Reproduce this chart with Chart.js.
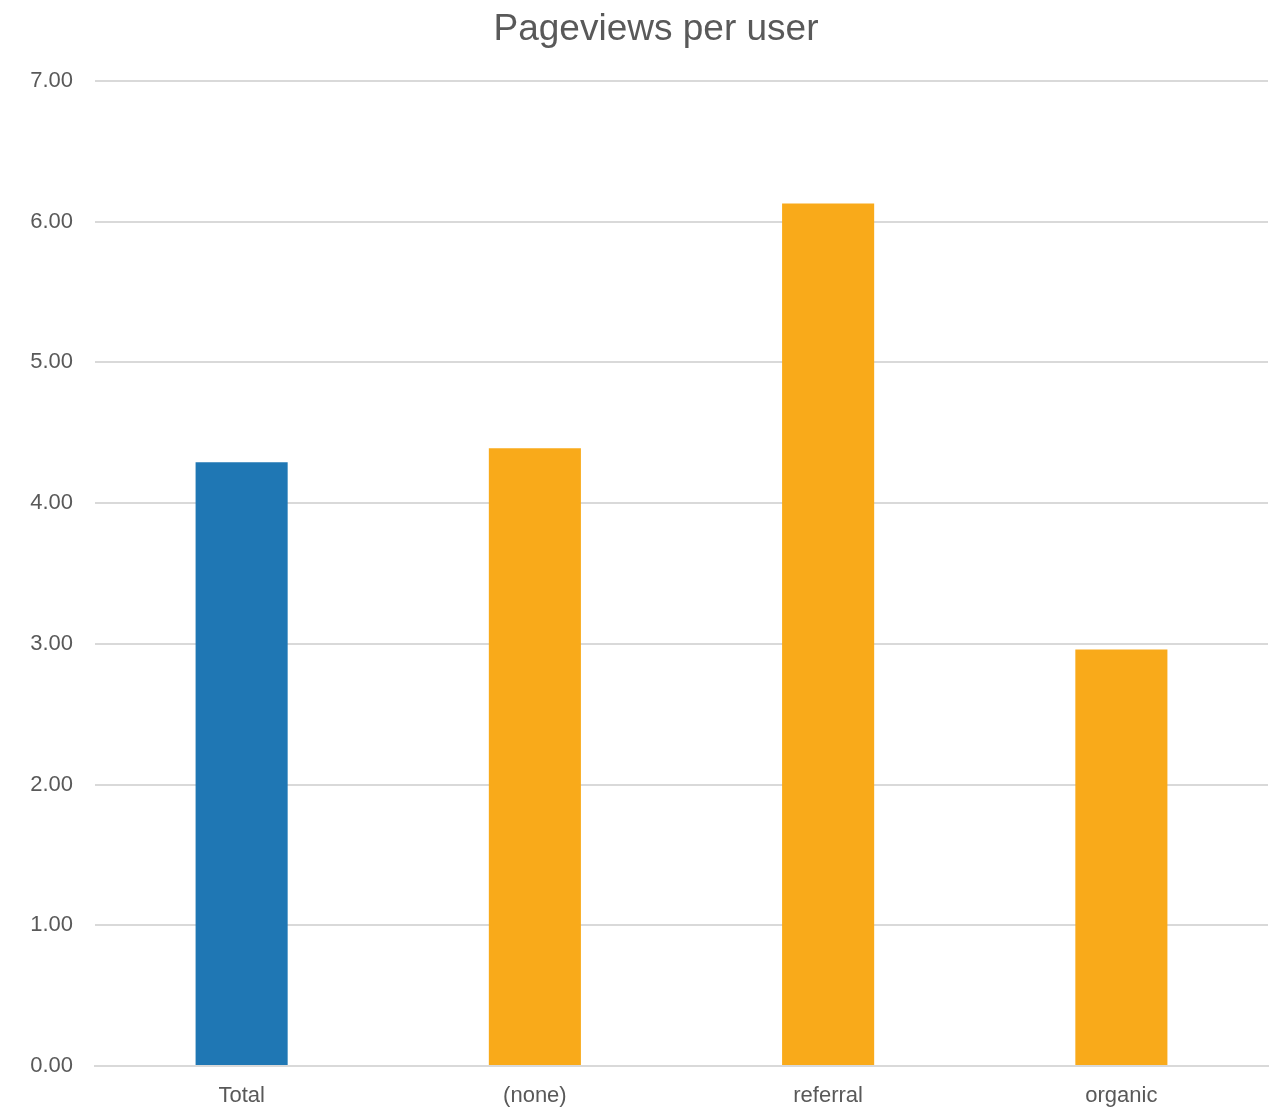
<!DOCTYPE html>
<html>
<head>
<meta charset="utf-8">
<title>Pageviews per user</title>
<script src="https://cdn.jsdelivr.net/npm/chart.js@4/dist/chart.umd.min.js"></script>
<style>
  html, body { margin: 0; padding: 0; background: #fff; }
  #wrap { width: 1284px; height: 1112px; }
</style>
</head>
<body>
<div id="wrap"><canvas id="pvChart" width="1284" height="1112"></canvas></div>
<script>
// channels and their pageviews per user
const channels = ['Total', '(none)', 'referral', 'organic'];
const pageviewsPerUser = [4.29, 4.39, 6.13, 2.96];
const barColors = ['#1F77B4', '#F9AA1A', '#F9AA1A', '#F9AA1A'];
const yTicks = [0, 1, 2, 3, 4, 5, 6, 7];

const fontFamily = '"Liberation Sans", Arial, sans-serif';
const textColor = '#595959';

// nudge the title box so the heading sits a bit right of the canvas centre
const titleShift = {
    id: 'titleShift',
    afterLayout(chart) {
        if (chart.titleBlock) chart.titleBlock.left += 44;
    }
};

const ctx = document.getElementById('pvChart').getContext('2d');
const chart = new Chart(ctx, {
    type: 'bar',
    data: {
        labels: channels,
        datasets: [{
            label: 'Pageviews per user',
            data: pageviewsPerUser,
            backgroundColor: barColors,
            borderWidth: 0,
            barPercentage: 0.314,
            categoryPercentage: 1.0
        }]
    },
    plugins: [titleShift],
    options: {
        responsive: false,
        animation: false,
        layout: {
            padding: { left: 0, right: 16, top: 0, bottom: 3 }
        },
        plugins: {
            legend: { display: false },
            tooltip: { enabled: false },
            title: {
                display: true,
                text: 'Pageviews per user',
                color: textColor,
                font: { family: fontFamily, size: 37, weight: 'normal' },
                padding: { top: 8, bottom: 28.6 }
            }
        },
        scales: {
            x: {
                afterFit: (scale) => { scale.height = 43; },
                grid: { display: false, drawTicks: false },
                border: { display: true, color: '#D9D9D9', width: 2 },
                ticks: {
                    color: textColor,
                    font: { family: fontFamily, size: 22 },
                    padding: 17
                }
            },
            y: {
                min: yTicks[0],
                max: yTicks[yTicks.length - 1],
                afterFit: (scale) => { scale.width = 95; },
                afterBuildTicks: (scale) => {
                    scale.ticks = yTicks.map(v => ({ value: v }));
                },
                grid: {
                    color: '#D9D9D9',
                    lineWidth: 2,
                    drawTicks: false
                },
                border: { display: false },
                ticks: {
                    color: textColor,
                    font: { family: fontFamily, size: 22 },
                    padding: 22,
                    callback: (v) => Number(v).toFixed(2)
                }
            }
        }
    }
});
</script>
</body>
</html>
